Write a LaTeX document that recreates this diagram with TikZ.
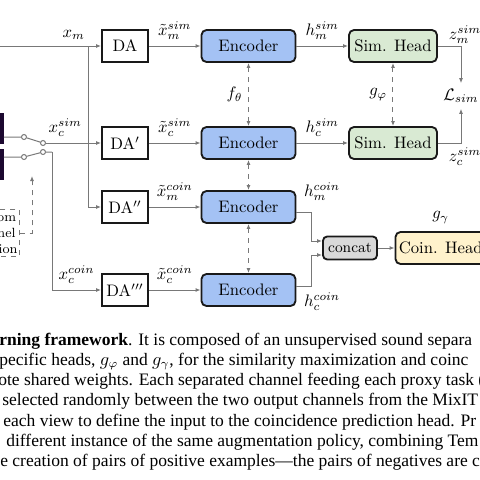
\documentclass[tikz,border=0pt]{standalone}
\usepackage{amsmath,amssymb}
\usepackage{fontspec}
\usepackage{tikz}
\usetikzlibrary{arrows.meta, positioning, calc}
\newfontfamily\capfont{Liberation Serif}
\definecolor{encfill}{RGB}{164, 194, 244}
\definecolor{simfill}{RGB}{217, 234, 211}
\definecolor{coinfill}{RGB}{255, 242, 204}
\definecolor{catfill}{RGB}{217, 217, 217}
\definecolor{wire}{RGB}{120, 120, 120}
\definecolor{mixout}{RGB}{28, 8, 48}
\tikzset{
  baseblock/.style={
    rectangle, draw=black!90, line width=1.1pt,
    minimum height=19.2pt, align=center, inner sep=2pt
  },
  augblock/.style={baseblock, fill=white, minimum width=27.6pt},
  encblock/.style={baseblock, rounded corners=3pt, fill=encfill, minimum width=56.4pt},
  headblock/.style={baseblock, rounded corners=3pt, fill=simfill, minimum width=52.8pt},
  coinblock/.style={baseblock, rounded corners=3pt, fill=coinfill, minimum width=54pt},
  catblock/.style={
    baseblock, rounded corners=2.5pt, fill=catfill, inner sep=1pt,
    minimum width=32.4pt, minimum height=13.8pt, font=\small
  },
  selectbox/.style={
    rectangle, draw=wire, dashed, line width=0.6pt, align=center,
    font=\footnotesize, inner xsep=1pt, inner ysep=2pt
  },
  contact/.style={circle, draw=wire, fill=white, line width=0.6pt, inner sep=0pt, minimum size=3pt},
  plainline/.style={draw=wire, line width=0.6pt},
  flowline/.style={draw=wire, line width=0.6pt, -{Latex[length=3pt, width=2.4pt]}},
  dashedflow/.style={draw=wire, line width=0.6pt, dashed, -{Latex[length=3pt, width=2.4pt]}},
  sharedline/.style={
    draw=wire, line width=0.6pt, dashed,
    {Latex[length=3pt, width=2.4pt]}-{Latex[length=3pt, width=2.4pt]}
  },
  captext/.style={anchor=base west, inner sep=0pt, font=\capfont\fontsize{10.5}{12}\selectfont}
}

\begin{document}
\begin{tikzpicture}[x=0.6pt, y=-0.6pt, node distance=31pt]
  \useasboundingbox (0,0) rectangle (480,480);
  \clip (0,0) rectangle (480,480);

  % MixIT output channels
  \fill[mixout] (-10,113) rectangle (4,144);
  \fill[mixout] (-10,149) rectangle (4,180);

  % Augmentation column
  \node[augblock] (da1) at (125,46) {DA};
  \node[augblock] (da2) at (125,143) {DA$'$};
  \node[augblock] (da3) at (125,207) {DA$''$};
  \node[augblock] (da4) at (125,290) {DA$'''$};

  % Shared encoders
  \node[encblock, right=of da1] (enc1) {Encoder};
  \node[encblock, right=of da2] (enc2) {Encoder};
  \node[encblock, right=of da3] (enc3) {Encoder};
  \node[encblock, right=of da4] (enc4) {Encoder};

  % Similarity heads
  \node[headblock, right=of enc1] (sim1) {Sim. Head};
  \node[headblock, right=of enc2] (sim2) {Sim. Head};
  \node (lsim) at (461,96) {$\mathcal{L}_{sim}$};
  \node (zm) at (465,35) {$z_m^{sim}$};
  \node (zc) at (465,157) {$z_c^{sim}$};

  % Coincidence head
  \node[catblock] (cat) at (350,248) {concat};
  \node[coinblock, right=10pt of cat] (coin) {Coin. Head};
  \node[above=1pt of coin] (ggam) {$g_\gamma$};
  \node (hmc) at (322,192) {$h_m^{coin}$};
  \node (hcc) at (322,302) {$h_c^{coin}$};

  % Channel selection switches
  \coordinate (out1) at (4,137);
  \coordinate (out2) at (4,157);
  \node[contact] (s1a) at (24,137) {};
  \node[contact] (s1b) at (43,143) {};
  \node[contact] (s2a) at (24,157) {};
  \node[contact] (s2b) at (43,152) {};
  \coordinate (drop) at (52,152);
  \node[selectbox] (sel) at (-10,233) {Random\\Channel\\Selection};
  \coordinate (selup) at (32,176);

  \coordinate (inm) at (0,46);
  \coordinate (split) at (88,46);
  \draw[flowline] (inm) -- node[above, pos=0.73] {$x_m$} (da1);
  \draw[flowline] (split) |- (da3);
  \draw[plainline] (out1) -- (s1a) -- (s1b);
  \draw[flowline] (s1b) -- node[above, pos=0.35] {$x_c^{sim}$} (da2);
  \draw[plainline] (out2) -- (s2a) -- (s2b) -- (drop);
  \draw[flowline] (drop) |- node[above, pos=0.75] {$x_c^{coin}$} (da4);
  \draw[dashedflow] (sel) -| (selup);

  \draw[flowline] (da1) -- node[above] {$\tilde{x}_m^{sim}$} (enc1);
  \draw[flowline] (da2) -- node[above] {$\tilde{x}_c^{sim}$} (enc2);
  \draw[flowline] (da3) -- node[above] {$\tilde{x}_m^{coin}$} (enc3);
  \draw[flowline] (da4) -- node[above] {$\tilde{x}_c^{coin}$} (enc4);

  \draw[flowline] (enc1) -- node[above] {$h_m^{sim}$} (sim1);
  \draw[flowline] (enc2) -- node[above] {$h_c^{sim}$} (sim2);
  \draw[flowline] (sim1) -| (lsim);
  \draw[flowline] (sim2) -| (lsim);

  \draw[flowline] ([yshift=-3pt]enc3.east) -- ++(15,0) |- ([yshift=4.2pt]cat.west);
  \draw[flowline] ([yshift=2.4pt]enc4.east) -- ++(15,0) |- ([yshift=-4.2pt]cat.west);
  \draw[flowline] (cat) -- (coin);

  \draw[sharedline] (enc1) -- node[left] {$f_\theta$} (enc2);
  \draw[sharedline] (enc2) -- (enc3);
  \draw[sharedline] (enc3) -- (enc4);
  \draw[sharedline] (sim1) -- node[left] {$g_\varphi$} (sim2);

  % Caption
  \node[captext] (cap1) at (-1,345) {\textbf{rning framework}. It is composed of an unsupervised sound separa};
  \node[captext] (cap2) at (-1,365) {pecific heads, $g_\varphi$ and $g_\gamma$, for the similarity maximization and coinc};
  \node[captext] (cap3) at (-2,385) {ote shared weights. Each separated channel feeding each proxy task (};
  \node[captext] (cap4) at (2,405) {selected randomly between the two output channels from the MixIT};
  \node[captext] (cap5) at (3,426) {each view to define the input to the coincidence prediction head. Pr};
  \node[captext] (cap6) at (6,446) {different instance of the same augmentation policy, combining Tem};
  \node[captext] (cap7) at (0,466) {e creation of pairs of positive examples—the pairs of negatives are co};
\end{tikzpicture}
\end{document}
